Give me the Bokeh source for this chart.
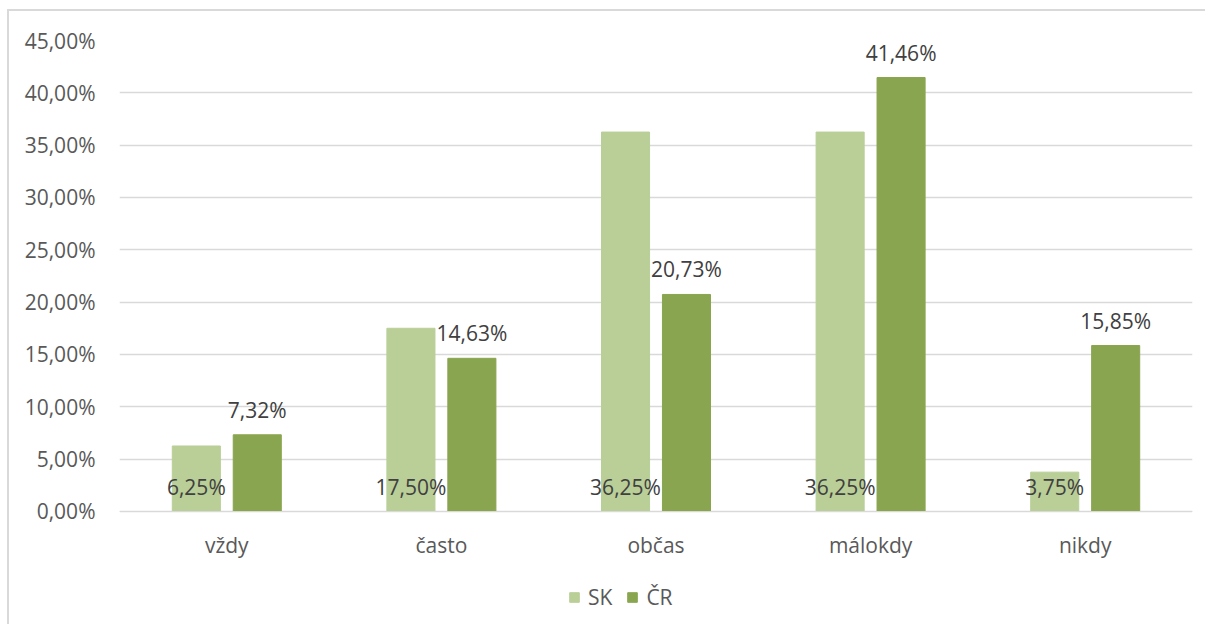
from bokeh.plotting import figure
from bokeh.models import (FactorRange, Range1d, FixedTicker, CustomJSTickFormatter,
                          ColumnDataSource, Legend, LegendItem)
from bokeh.transform import dodge
from bokeh.core.properties import value
from bokeh.embed import file_html
from bokeh.resources import INLINE

categories = ["vždy", "často", "občas", "málokdy", "nikdy"]
sk_values = [6.25, 17.50, 36.25, 36.25, 3.75]
cr_values = [7.32, 14.63, 20.73, 41.46, 15.85]
y_ticks = [0, 5, 10, 15, 20, 25, 30, 35, 40, 45]

def fmt(v):
    return f"{v:.2f}".replace(".", ",") + "%"

src = ColumnDataSource(dict(
    cat=categories,
    sk=sk_values,
    cr=cr_values,
    sk_lab=[fmt(v) for v in sk_values],
    cr_lab=[fmt(v) for v in cr_values],
    zero=[0] * len(categories),
))

FONT = "Open Sans"
SK_COLOR = "#b9cf97"
CR_COLOR = "#8aa54f"

p = figure(width=1198, height=615, output_backend="svg", toolbar_location=None,
           x_range=FactorRange(factors=categories, range_padding=0),
           y_range=Range1d(-11.0, 45),
           min_border_left=110, min_border_right=15, min_border_top=29, min_border_bottom=0,
           styles={"border-left": "2px solid #d9d9d9", "border-top": "2px solid #d9d9d9",
                   "margin-left": "7px", "margin-top": "9px"})
p.outline_line_color = None
p.background_fill_color = "white"
p.border_fill_color = "white"

off = 0.142
bw = 0.224
r_sk = p.vbar(x=dodge("cat", -off, range=p.x_range), top="sk", width=bw, source=src,
              fill_color=SK_COLOR, line_color=SK_COLOR)
r_cr = p.vbar(x=dodge("cat", off, range=p.x_range), top="cr", width=bw, source=src,
              fill_color=CR_COLOR, line_color=CR_COLOR)

p.text(x=dodge("cat", -off, range=p.x_range), y="zero", text="sk_lab", source=src,
       text_align="center", text_baseline="middle", y_offset=-24,
       text_font=value(FONT), text_font_size="21px", text_color="#404040")
p.text(x=dodge("cat", off, range=p.x_range), y="cr", text="cr_lab", source=src,
       text_align="center", text_baseline="middle", y_offset=-25,
       text_font=value(FONT), text_font_size="21px", text_color="#404040")

p.yaxis.ticker = FixedTicker(ticks=y_ticks)
p.yaxis.formatter = CustomJSTickFormatter(code="return tick.toFixed(2).replace('.', ',') + '%';")
p.yaxis.axis_line_color = None
p.yaxis.major_tick_line_color = None
p.yaxis.minor_tick_line_color = None
p.yaxis.major_label_standoff = 18
p.yaxis.major_label_text_font = FONT
p.yaxis.major_label_text_font_size = "21px"
p.yaxis.major_label_text_color = "#595959"

p.xaxis.fixed_location = 0
p.xaxis.axis_line_color = "#d9d9d9"
p.xaxis.axis_line_width = 1
p.xaxis.major_tick_line_color = None
p.xaxis.minor_tick_line_color = None
p.xaxis.major_label_standoff = 14
p.xaxis.major_label_text_font = FONT
p.xaxis.major_label_text_font_size = "21px"
p.xaxis.major_label_text_color = "#595959"

p.xgrid.grid_line_color = None
p.ygrid.ticker = FixedTicker(ticks=y_ticks)
p.ygrid.grid_line_color = "#d9d9d9"
p.ygrid.grid_line_width = 1.5

legend = Legend(items=[LegendItem(label="SK", renderers=[r_sk]),
                       LegendItem(label="ČR", renderers=[r_cr])],
                orientation="horizontal", location=(449, 15),
                glyph_width=12, glyph_height=12, label_standoff=8, spacing=14,
                padding=0, margin=0, border_line_color=None, background_fill_alpha=0,
                label_text_font=FONT, label_text_font_size="21px",
                label_text_color="#595959")
p.add_layout(legend, "center")

open("out.html", "w").write(file_html(p, INLINE))
